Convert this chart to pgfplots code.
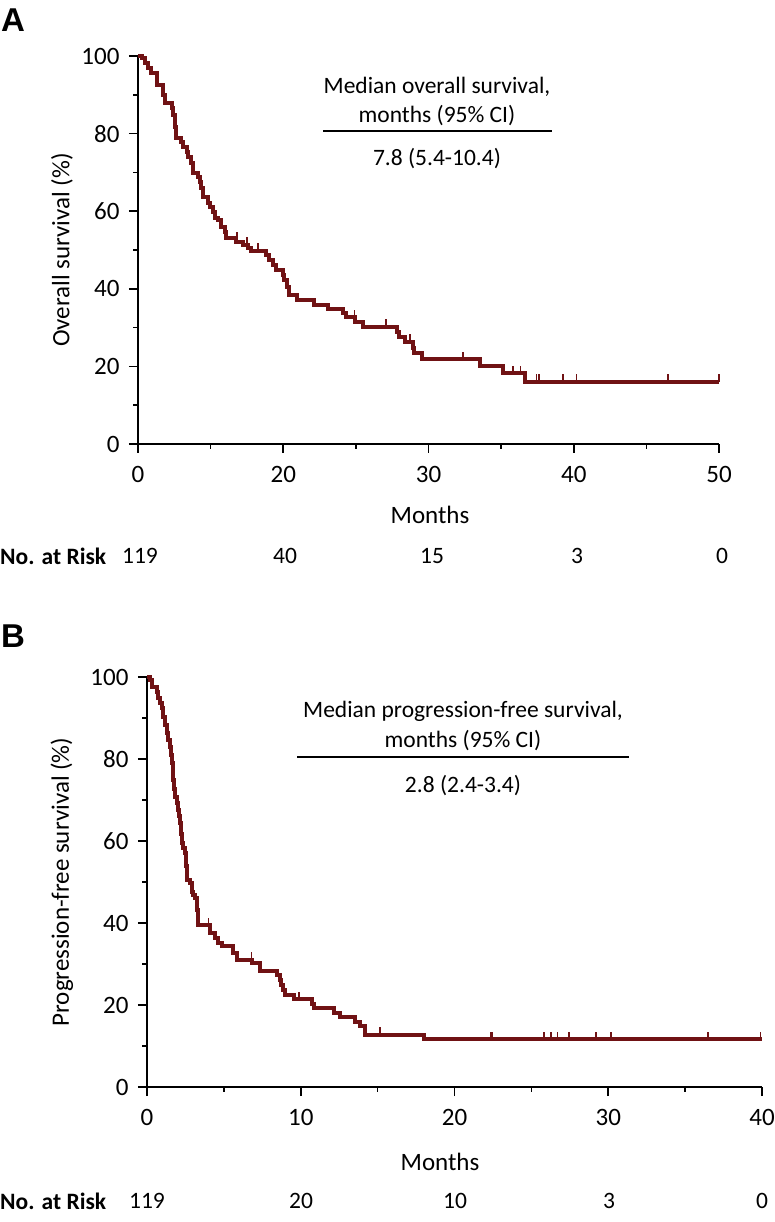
\documentclass[border=0pt]{standalone}
\usepackage{pgfplots}
\pgfplotsset{compat=1.18}
\usepackage{fontspec}
\setmainfont{Carlito}
\newfontfamily\panelfont{Liberation Sans}
\definecolor{kmred}{RGB}{112,18,20}
\pgfdeclareplotmark{cens}{\pgfpathmoveto{\pgfpoint{0pt}{0pt}}\pgfpathlineto{\pgfpoint{0pt}{7.5pt}}\pgfusepathqstroke}
\newcommand{\fs}{\fontsize{23.5}{28}\selectfont}
\newcommand{\ft}{\fontsize{25}{30}\selectfont}
\pgfplotsset{
  kmaxis/.style={
    scale only axis, axis lines=left, axis line style={-, line width=1.6pt},
    tick align=outside, major tick length=9pt, minor tick length=5pt,
    every tick/.style={black, line width=1.6pt},
    ymin=0, ymax=100, ytick={0,20,...,100}, minor ytick={10,30,50,70,90},
    xmin=0, xmax=40, xtick={0,10,20,30,40}, minor xtick={5,15,25,35},
    /pgf/number format/assume math mode=true,
    tick label style={font=\ft},
    xticklabel style={yshift=-10pt},
    yticklabel style={xshift=-6pt},
    clip=false, anchor=south west,
  },
  kmline/.style={const plot, color=kmred, line width=4pt, mark=none},
  kmcens/.style={only marks, mark=cens, color=kmred, mark options={line width=1.8pt}},
}
\begin{document}
\begin{tikzpicture}[x=1pt,y=1pt,font=\fs]
\useasboundingbox (0,0) rectangle (775,1222);
% Panel A
\begin{axis}[kmaxis, at={(138pt,778pt)}, width=581pt, height=388pt,
  xticklabels={0,20,30,40,50}]
\addplot[kmline] coordinates {
(0,100) (0.25,99.4) (0.48,98.1) (0.71,96.8) (0.87,95.5) (1.28,92.5) (1.73,90) (1.85,87.8)
(2.31,86.5) (2.42,84.8) (2.53,81.8) (2.65,78.8) (2.99,77.9) (3.10,76.6) (3.34,75.3) (3.45,74)
(3.68,72.3) (3.79,69.8) (4.13,68.9) (4.25,67.6) (4.36,65.9) (4.47,63.7) (4.82,62) (4.93,61.2)
(5.16,59.9) (5.27,58.2) (5.50,57.7) (5.73,56) (5.96,54.7) (6.08,53) (6.76,52.1) (7.21,51.3)
(7.55,50.4) (7.79,49.8) (8.82,48.7) (9.04,47.4) (9.27,46.1) (9.50,44.8) (9.95,43.6) (10.07,42.3)
(10.29,40.5) (10.41,38.4) (10.98,37.1) (12.11,35.8) (13.1,34.7) (14.13,33.7) (14.3,32.6)
(14.93,31.4) (15.5,30.2) (17.8,28.9) (17.96,27.7) (18.38,26.4) (18.95,24.7) (19.0,23.4)
(19.52,21.9) (23.54,20.2) (25.14,18.2) (26.63,16.1) (40,16.1)
};
\addplot[kmcens] coordinates {
(6.79,52.6) (7.48,51.3) (8.28,49.8) (14.9,32.6) (17.07,30.2) (18.72,26.4) (22.39,21.9)
(25.83,18.2) (26.34,18.2) (27.44,16.1) (27.62,16.1) (29.27,16.1) (30.19,16.1) (36.5,16.1) (40,16.1)
};
\end{axis}
% Panel B
\begin{axis}[kmaxis, at={(147pt,135pt)}, width=615pt, height=410pt]
\addplot[kmline] coordinates {
(0,100) (0.2,99.2) (0.32,97.5) (0.63,96.4) (0.74,94.8) (0.85,93.6) (0.96,92.4) (1.06,90.3)
(1.17,88.3) (1.28,86.3) (1.39,84.6) (1.5,83) (1.56,81) (1.61,79) (1.66,77) (1.71,74.9)
(1.76,72.8) (1.82,70.8) (1.93,69.2) (2.04,67.6) (2.1,66) (2.15,64.3) (2.2,61.8) (2.26,59.4)
(2.37,58.2) (2.48,57) (2.53,53.8) (2.59,50.5) (2.8,49.7) (2.91,47.6) (3.02,46.8) (3.13,46)
(3.24,43.2) (3.29,41.4) (3.34,39.5) (4.1,37.5) (4.43,36.3) (4.65,35) (4.87,34.4) (5.62,32.8)
(5.84,31) (6.85,30.2) (7.36,28.4) (8.45,27.3) (8.62,26.1) (8.71,24.9) (8.84,23.7) (8.99,22.4)
(9.53,21.4) (10.73,20.2) (10.84,19.2) (12.14,18.1) (12.57,17) (13.55,15.9) (13.88,14.9)
(14.2,12.7) (18.0,11.6) (40,11.6)
};
\addplot[kmcens] coordinates {
(4.0,39.5) (6.8,31) (9.86,21.4) (15.18,12.7) (22.35,11.6) (22.45,11.6) (25.8,11.6) (26.3,11.6)
(26.7,11.6) (27.45,11.6) (29.2,11.6) (30.2,11.6) (36.5,11.6) (39.9,11.6)
};
\end{axis}
% Panel labels
\node[font=\panelfont\bfseries\fontsize{33}{36}\selectfont] at (13,1202) {A};
\node[font=\panelfont\bfseries\fontsize{33}{36}\selectfont] at (13,586) {B};
% Axis titles
\node[rotate=90,font=\ft] at (62,972) {Overall survival (\%)};
\node[rotate=90,font=\ft] at (62,340) {Progression-free survival (\%)};
\node[font=\ft] at (430,707) {Months};
\node[font=\ft] at (440,60) {Months};
% Median boxes
\node at (437,1135) {Median overall survival,};
\node at (437,1106) {months (95\% CI)};
\draw[line width=1.2pt] (323,1091) -- (552,1091);
\node at (437,1063) {7.8 (5.4-10.4)};
\node at (463,511) {Median progression-free survival,};
\node at (463,481) {months (95\% CI)};
\draw[line width=1.2pt] (297,465) -- (629,465);
\node at (463,436) {2.8 (2.4-3.4)};
% Numbers at risk
\node[anchor=west,font=\fs\bfseries,inner sep=0pt] at (0,666) {No. at Risk};
\foreach \x/\n in {140/119,285/40,432/15,577/3,722/0} \node at (\x,666) {\n};
\node[anchor=west,font=\fs\bfseries,inner sep=0pt] at (0,21) {No. at Risk};
\foreach \x/\n in {147/119,301/20,455/10,609/3,762/0} \node at (\x,21) {\n};
\end{tikzpicture}
\end{document}
